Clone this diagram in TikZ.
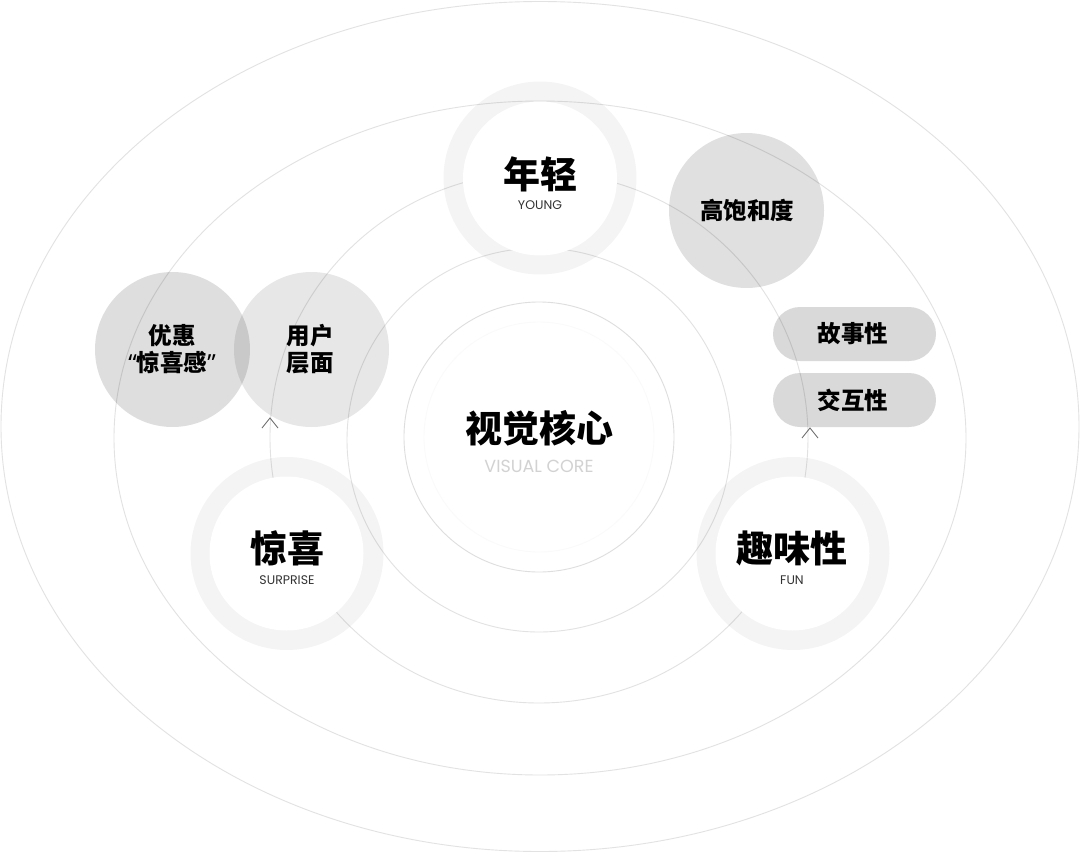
\documentclass[tikz,border=0pt]{standalone}
\usepackage{fontspec}
\setmainfont{Poppins}
\newfontfamily\cjk{Noto Sans CJK SC}
\newfontfamily\en{Poppins}
\newfontfamily\qt{Noto Sans}
\definecolor{orbitc}{HTML}{E2E2E2}
\definecolor{corec}{HTML}{DEDEDE}
\definecolor{subc}{HTML}{333333}
\definecolor{corelbl}{HTML}{D2D2D2}
\definecolor{chevc}{HTML}{666666}
\tikzset{
  orbit/.style={draw=orbitc, line width=0.9pt},
  ringbox/.style={circle, fill=black, fill opacity=0.042, minimum size=193pt, inner sep=0pt},
  innerbox/.style={circle, fill=white, minimum size=154pt, inner sep=0pt},
  blob/.style={circle, fill=black, fill opacity=#1, text opacity=1, minimum size=155pt, inner sep=0pt},
  pillbox/.style={rectangle, rounded corners=27pt, fill=black, fill opacity=0.15, text opacity=1, minimum width=163pt, minimum height=54pt, inner sep=0pt},
  bigtxt/.style={font=\cjk\bfseries\fontsize{37}{40}\selectfont, text=black, inner sep=0pt},
  midtxt/.style={font=\cjk\bfseries\fontsize{23.5}{28}\selectfont, text=black, align=center, inner sep=0pt},
  subtxt/.style={font=\en\fontsize{12.5}{14}\selectfont, text=subc, inner sep=0pt},
  chev/.style={draw=chevc, line width=0.8pt}
}
\begin{document}
\begin{tikzpicture}[x=1pt,y=-1pt]
\fill[white] (0,0) rectangle (1080,854);
\useasboundingbox (0,0) rectangle (1080,854);

% orbits
\draw[orbit] (540,426.5) ellipse [x radius=539pt, y radius=425pt];
\draw[orbit] (540,438) ellipse [x radius=426pt, y radius=337pt];
\draw[orbit] (539,437.5) ellipse [x radius=269pt, y radius=265.5pt];
\draw[orbit] (539,440) circle [radius=192pt];

% centre
\node[circle, draw=corec, fill=white, line width=0.9pt, minimum size=270pt, inner sep=0pt] (core) at (539,437) {};
\draw[draw=black!2, line width=0.8pt] (539,437) circle [radius=115pt];
\node[bigtxt] (coreT) at (539,428) {视觉核心};
\node[font=\en\fontsize{17.5}{20}\selectfont, text=corelbl, inner sep=0pt] (coreS) at (539,466) {VISUAL CORE};

% left pair
\node[blob=0.13] (youhui) at (172.5,349.5) {};
\node[blob=0.095] (yonghu) at (311.5,349.5) {};
\node[midtxt] (youhuiT) at (172,349) {优惠\\[-1pt]{\qt\bfseries “}惊喜感{\qt\bfseries ”}};
\node[midtxt] (yonghuT) at (310,349) {用户\\[-1pt]层面};

% saturation
\node[blob=0.12] (gaobao) at (746.5,210.5) {};
\node[midtxt] (gaobaoT) at (747,211) {高饱和度};

% pills
\node[pillbox] (gushi) at (854.5,334) {};
\node[midtxt] (gushiT) at (853,334) {故事性};
\node[pillbox] (jiaohu) at (854.5,400) {};
\node[midtxt] (jiaohuT) at (853,400) {交互性};

% rings
\node[ringbox] (young) at (540,178) {};
\node[innerbox] (youngIn) at (540,178.5) {};
\node[bigtxt] (youngT) at (540,174) {年轻};
\node[subtxt] (youngS) at (540,205) {YOUNG};

\node[ringbox] (surprise) at (287,553.5) {};
\node[innerbox] (surpriseIn) at (286.5,553.5) {};
\node[bigtxt] (surpriseT) at (287,548) {惊喜};
\node[subtxt] (surpriseS) at (287,580) {SURPRISE};

\node[ringbox] (fun) at (793,553.5) {};
\node[innerbox] (funIn) at (792.5,553.5) {};
\node[bigtxt] (funT) at (792,548) {趣味性};
\node[subtxt] (funS) at (792,580) {FUN};

% chevrons
\coordinate (chevL) at (270,418);
\coordinate (chevR) at (810,428);
\draw[chev] (chevL) ++(-8,10) -- (chevL) -- ++(8,10);
\draw[chev] (chevR) ++(-8,10) -- (chevR) -- ++(8,10);
\end{tikzpicture}
\end{document}
